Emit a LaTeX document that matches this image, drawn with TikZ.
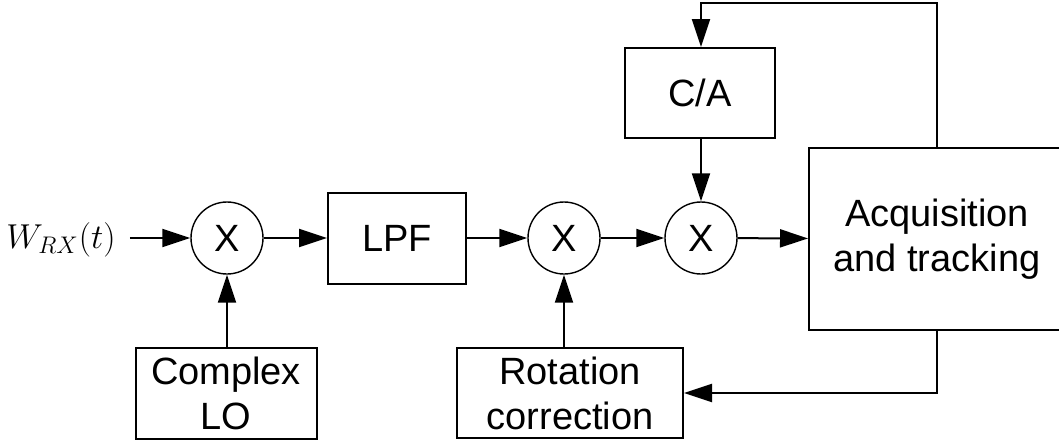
\documentclass[tikz,border=0pt]{standalone}
\usepackage{fontspec}
\setmainfont{Liberation Sans}
\usetikzlibrary{positioning, arrows.meta}

\begin{document}
\begin{tikzpicture}[
  x=0.5pt, y=-0.5pt,
  every node/.style={font=\fontsize{19}{22.5}\selectfont},
  block/.style={
    rectangle, draw=black, line width=1pt,
    minimum width=#1, align=center, inner sep=0pt
  },
  mixer/.style={
    circle, draw=black, line width=0.7pt,
    minimum size=36pt, inner sep=0pt
  },
  arrow/.style={-{Triangle[length=14pt, width=9pt]}, line width=1pt}
]

\useasboundingbox (0,0) rectangle (1059,445);

% ── Main signal path ──────────────────────────────────────────────────────────
\node[font=\fontsize{16.5}{20}\selectfont, inner sep=7pt] (win) at (61,240)
  {$W_{RX}\!\left(t\right)$};
\node[mixer] (mix1) at (227,238) {X};
\node[block=69pt, minimum height=45.5pt] (lpf) at (397,238) {LPF};
\node[mixer] (mix2) at (564,238) {X};
\node[mixer] (mix3) at (701,238) {X};
\node[block=128pt, minimum height=91pt] (acq) at (937,239)
  {Acquisition\\and tracking};

% ── Side blocks ───────────────────────────────────────────────────────────────
\node[block=75pt, minimum height=45pt] (ca) at (700,93) {C/A};
\node[block=90.5pt, minimum height=45.5pt] (lo) at (226,393.5) {Complex\\LO};
\node[block=113pt, minimum height=45pt] (rot) at (570,393)
  {Rotation\\correction};

\coordinate (fbtop) at (937,3);

% arrows main path
\draw[arrow] (win.east |- mix1) -- (mix1);
\draw[arrow] (mix1) -- (lpf);
\draw[arrow] (lpf)  -- (mix2);
\draw[arrow] (mix2) -- (mix3);
\draw[arrow] (mix3) -- (acq);

% arrows from side blocks
\draw[arrow] (lo.north -| mix1) -- (mix1);
\draw[arrow] (rot.north -| mix2) -- (mix2);
\draw[arrow] (ca.south -| mix3) -- (mix3);

% feedback loops
\draw[arrow] (acq.north) -- (fbtop) -| (ca.north -| mix3);
\draw[arrow] (acq.south) |- (rot.east);

\end{tikzpicture}
\end{document}
